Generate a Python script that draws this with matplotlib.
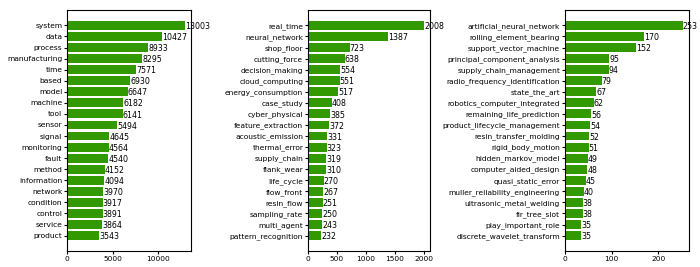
import numpy as np
import matplotlib
matplotlib.use("Agg")
import matplotlib.pyplot as plt

words = ["system", "data", "process", "manufacturing", "time", "based", "model",
         "machine", "tool", "sensor", "signal", "monitoring", "fault", "method",
         "information", "network", "condition", "control", "service", "product"]
word_counts = [13003, 10427, 8933, 8295, 7571, 6930, 6647, 6182, 6141, 5494,
               4645, 4564, 4540, 4152, 4094, 3970, 3917, 3891, 3864, 3543]

bigrams = ["real_time", "neural_network", "shop_floor", "cutting_force",
           "decision_making", "cloud_computing", "energy_consumption", "case_study",
           "cyber_physical", "feature_extraction", "acoustic_emission", "thermal_error",
           "supply_chain", "flank_wear", "life_cycle", "flow_front", "resin_flow",
           "sampling_rate", "multi_agent", "pattern_recognition"]
bigram_counts = [2008, 1387, 723, 638, 554, 551, 517, 408, 385, 372,
                 331, 323, 319, 310, 270, 267, 251, 250, 243, 232]

trigrams = ["artificial_neural_network", "rolling_element_bearing",
            "support_vector_machine", "principal_component_analysis",
            "supply_chain_management", "radio_frequency_identification",
            "state_the_art", "robotics_computer_integrated",
            "remaining_life_prediction", "product_lifecycle_management",
            "resin_transfer_molding", "rigid_body_motion", "hidden_markov_model",
            "computer_aided_design", "quasi_static_error",
            "muller_reliability_engineering", "ultrasonic_metal_welding",
            "fir_tree_slot", "play_important_role", "discrete_wavelet_transform"]
trigram_counts = [253, 170, 152, 95, 94, 79, 67, 62, 56, 54,
                  52, 51, 49, 48, 45, 40, 38, 38, 35, 35]

fs = 5.4
plt.rcParams['font.size'] = fs

fig = plt.figure(figsize=(7, 2.67), dpi=100)
positions = [[0.096, 0.06, 0.177, 0.9025],
             [0.44, 0.06, 0.174, 0.9025],
             [0.807, 0.06, 0.177, 0.9025]]

for pos, labels, counts in zip(positions, [words, bigrams, trigrams],
                               [word_counts, bigram_counts, trigram_counts]):
    ax = fig.add_axes(pos)
    y = np.arange(len(labels))
    ax.barh(y, counts, color="#339900")
    ax.set_yticks(y)
    ax.set_yticklabels(labels)
    ax.invert_yaxis()
    for i, v in enumerate(counts):
        ax.text(v, i + 0.1, str(v), va="center", ha="left", fontsize=fs + 0.3)
    ax.tick_params(labelsize=fs, length=2.3, pad=1.2)

fig.savefig("out.png", dpi=100)
